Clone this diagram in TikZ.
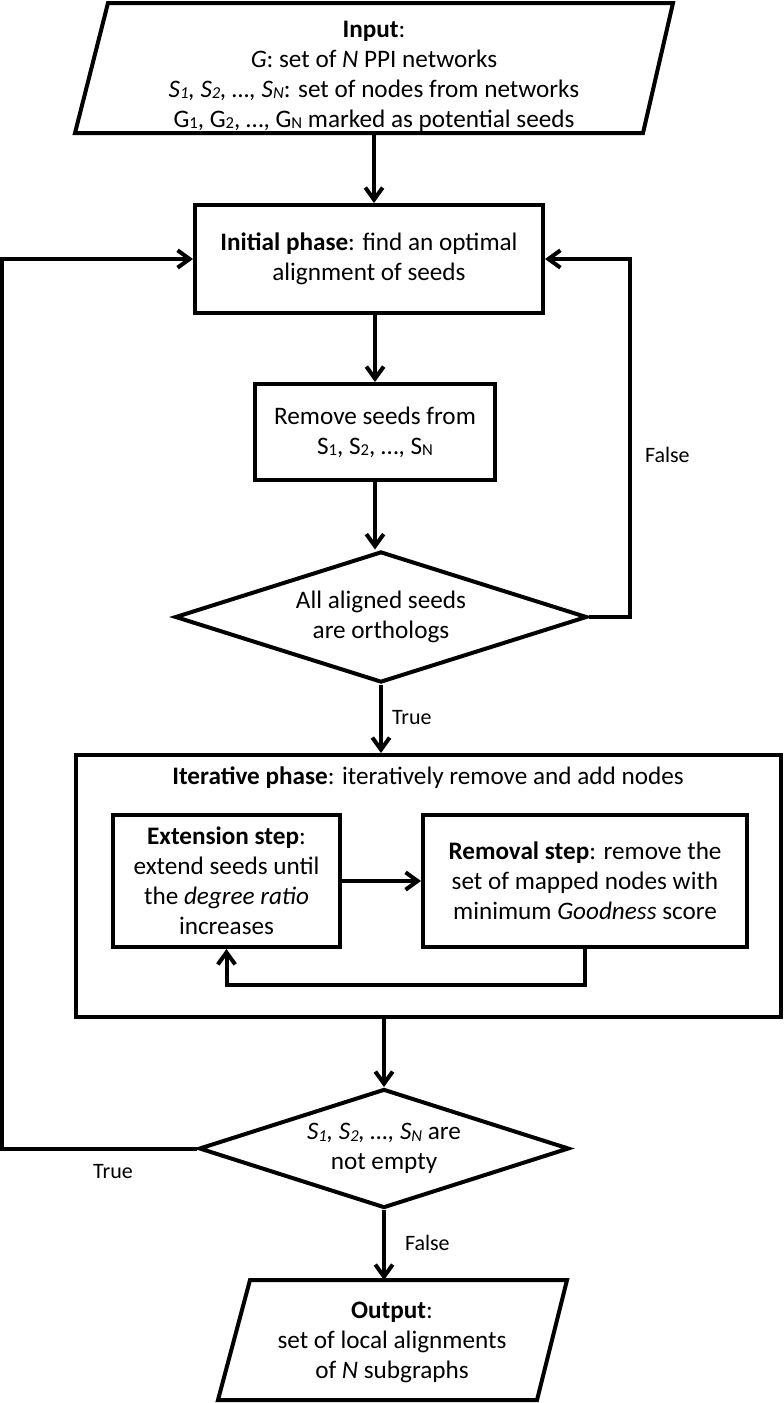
\documentclass[tikz,border=0pt]{standalone}
\usepackage{fontspec}
\setmainfont{Carlito}
\usetikzlibrary{arrows.meta,shapes.geometric,calc}
\newcommand\sbs[1]{\raisebox{-0.15ex}{\fontsize{12.5}{12.5}\selectfont #1}}
\begin{document}
\begin{tikzpicture}[x=0.75pt,y=-0.75pt,line width=3pt,
  font=\fontsize{18.9}{22.5}\selectfont,
  box/.style={draw,rectangle,inner sep=0pt,align=center},
  dia/.style={draw,diamond,inner sep=0pt,align=center,aspect=3.1},
  plain/.style={inner sep=0pt,align=center},
  lab/.style={inner sep=0pt,font=\fontsize{16.5}{20}\selectfont},
  arr/.style={-{Straight Barb[length=9pt,width=13pt]}}]
\useasboundingbox (0,0) rectangle (784,1403);
% input
\draw (108,3) -- (673,3) -- (643,133) -- (75,133) -- cycle;
\node[plain,minimum width=540*0.75pt,minimum height=112*0.75pt] (in) at (374,76)
  {\textbf{Input}:\\ \textit{G}: set of \textit{N} PPI networks\\
   \textit{S\sbs{1}, S\sbs{2}, …, S\sbs{N}}: set of nodes from networks\\
   G\sbs{1}, G\sbs{2}, …, G\sbs{N} marked as potential seeds};
\coordinate (inb) at (374,133);
\node[box,minimum width=348*0.75pt,minimum height=108*0.75pt] (init) at (369,259)
  {\textbf{Initial phase}: find an optimal\\ alignment of seeds};
\node[box,minimum width=240*0.75pt,minimum height=96*0.75pt] (remove) at (375,432)
  {Remove seeds from\\ S\sbs{1}, S\sbs{2}, …, S\sbs{N}};
\node[dia,minimum width=412*0.75pt,minimum height=131*0.75pt] (d1) at (381,617)
  {All aligned seeds\\ are orthologs};
\node[box,minimum width=705*0.75pt,minimum height=262*0.75pt] (iter) at (428.5,886) {};
\node[plain] (ititle) at (428,778) {\textbf{Iterative phase}: iteratively remove and add nodes};
\node[box,minimum width=227*0.75pt,minimum height=132*0.75pt] (ext) at (226.5,881)
  {\textbf{Extension step}:\\ extend seeds until\\ the \textit{degree ratio}\\ increases};
\node[box,minimum width=324*0.75pt,minimum height=132*0.75pt] (rem) at (585,881)
  {\textbf{Removal step}: remove the\\ set of mapped nodes with\\ minimum \textit{Goodness} score};
\node[dia,minimum width=370*0.75pt,minimum height=119*0.75pt] (d2) at (384,1148.5)
  {\textit{S\sbs{1}, S\sbs{2}, …, S\sbs{N}} are\\ not empty};
% output
\draw (250,1280) -- (567,1280) -- (537,1400) -- (218,1400) -- cycle;
\node[plain,minimum width=300*0.75pt,minimum height=120*0.75pt] (out) at (392,1342)
  {\textbf{Output}:\\ set of local alignments\\ of \textit{N} subgraphs};
\coordinate (outt) at (384,1280);
% connectors
\draw[arr] (inb) -- (inb |- init.north);
\draw[arr] (init.south -| remove.north) -- (remove.north);
\draw[arr] (remove.south) -- (remove.south |- d1.north);
\draw[arr] (d1.east) -- ++(41,0) |- (init.east);
\node[lab,anchor=west] (f1) at (643,455) {False};
\draw[arr] (d1.south) -- (d1.south |- iter.north);
\node[lab,anchor=west] (t1) at (390,718) {True};
\draw[arr] (ext.east) -- (rem.west);
\draw[arr] (rem.south) -- ++(0,36) -| (ext.south);
\draw[arr] (iter.south -| d2.north) -- (d2.north);
\draw[arr] (d2.west) -- ++(-195,0) |- (init.west);
\node[lab] (t2) at (113,1172) {True};
\draw[arr] (d2.south) -- (outt);
\node[lab,anchor=west] (f2) at (403,1243) {False};
\end{tikzpicture}
\end{document}
